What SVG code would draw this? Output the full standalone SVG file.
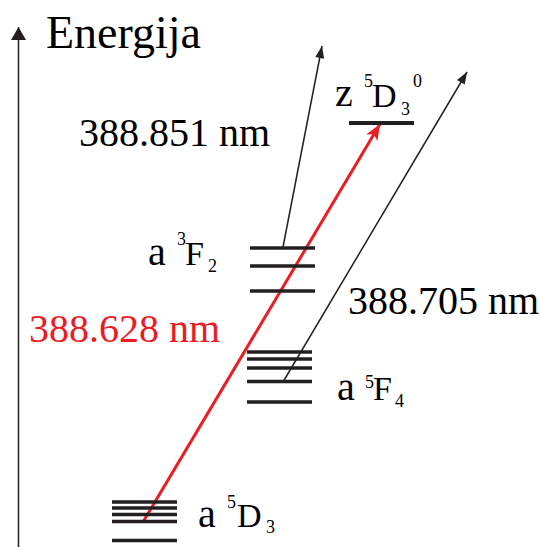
<svg xmlns="http://www.w3.org/2000/svg" width="540" height="547" viewBox="0 0 540 547">
<defs>
<marker id="ah" markerUnits="userSpaceOnUse" markerWidth="16" markerHeight="12" viewBox="-13 -6 14 12" refX="0" refY="0" orient="auto">
<path d="M0,0 L-12,-4.5 L-12,4.5 Z" fill="#231f20"/>
</marker>
<marker id="ahr" markerUnits="userSpaceOnUse" markerWidth="18" markerHeight="16" viewBox="-17 -8 18 16" refX="0" refY="0" orient="auto">
<path d="M0,0 L-16,-6.5 L-12,0 L-16,6.5 Z" fill="#ed1c24"/>
</marker>
<marker id="aha" markerUnits="userSpaceOnUse" markerWidth="16" markerHeight="18" viewBox="-14 -9 15 18" refX="0" refY="0" orient="auto">
<path d="M0,0 L-13,-7.5 L-13,7.5 Z" fill="#231f20"/>
</marker>
</defs>
<g id="axis">
<line x1="18.5" y1="547" x2="18.5" y2="27" stroke="#231f20" stroke-width="1.5" marker-end="url(#aha)"/>
<text x="46" y="48" font-family="Times New Roman" font-size="46">Energija</text>
</g>
<g id="connectors">
<g stroke="#231f20" stroke-width="1.5" fill="none">
<line x1="283" y1="247" x2="322" y2="46" marker-end="url(#ah)"/>
<line x1="283" y1="382" x2="467" y2="72" marker-end="url(#ah)"/>
</g>
<line x1="143" y1="522" x2="380" y2="124" stroke="#ed1c24" stroke-width="3" marker-end="url(#ahr)"/>
<text x="79" y="146" font-family="Times New Roman" font-size="40">388.851 nm</text>
<text x="348" y="314" font-family="Times New Roman" font-size="40">388.705 nm</text>
<text x="29" y="342" font-family="Times New Roman" font-size="40" fill="#ed1c24">388.628 nm</text>
</g>
<g id="z5D3">
<line x1="349" y1="123" x2="414" y2="123" stroke="#231f20" stroke-width="4"/>
<text x="335" y="106" font-family="Times New Roman" font-size="40">z</text>
<text x="364" y="87" font-family="Times New Roman" font-size="18">5</text>
<text x="372" y="107" font-family="Times New Roman" font-size="34">D</text>
<text x="401" y="115" font-family="Times New Roman" font-size="18">3</text>
<text x="413" y="87" font-family="Times New Roman" font-size="18">0</text>
</g>
<g id="a3F2">
<g stroke="#231f20" stroke-width="3.5">
<line x1="250" y1="248" x2="315" y2="248"/>
<line x1="250" y1="266" x2="315" y2="266"/>
<line x1="250" y1="291" x2="315" y2="291"/>
</g>
<text x="148" y="265" font-family="Times New Roman" font-size="40">a</text>
<text x="177" y="245" font-family="Times New Roman" font-size="18">3</text>
<text x="185" y="265" font-family="Times New Roman" font-size="34">F</text>
<text x="208" y="272" font-family="Times New Roman" font-size="18">2</text>
</g>
<g id="a5F4">
<g stroke="#231f20" stroke-width="3.5">
<line x1="247" y1="352" x2="312" y2="352"/>
<line x1="247" y1="359" x2="312" y2="359"/>
<line x1="247" y1="368" x2="312" y2="368"/>
<line x1="247" y1="381.5" x2="312" y2="381.5"/>
<line x1="247" y1="402" x2="312" y2="402"/>
</g>
<text x="337" y="400" font-family="Times New Roman" font-size="40">a</text>
<text x="365" y="388" font-family="Times New Roman" font-size="18">5</text>
<text x="373" y="400" font-family="Times New Roman" font-size="34">F</text>
<text x="395" y="407" font-family="Times New Roman" font-size="18">4</text>
</g>
<g id="a5D3">
<g stroke="#231f20" stroke-width="3.5">
<line x1="112" y1="502" x2="177" y2="502"/>
<line x1="112" y1="508" x2="177" y2="508"/>
<line x1="112" y1="514.5" x2="177" y2="514.5"/>
<line x1="112" y1="521.5" x2="177" y2="521.5"/>
<line x1="112" y1="540.5" x2="177" y2="540.5"/>
</g>
<text x="198" y="527" font-family="Times New Roman" font-size="40">a</text>
<text x="227" y="508" font-family="Times New Roman" font-size="18">5</text>
<text x="237" y="527" font-family="Times New Roman" font-size="34">D</text>
<text x="266" y="533" font-family="Times New Roman" font-size="18">3</text>
</g>
</svg>
